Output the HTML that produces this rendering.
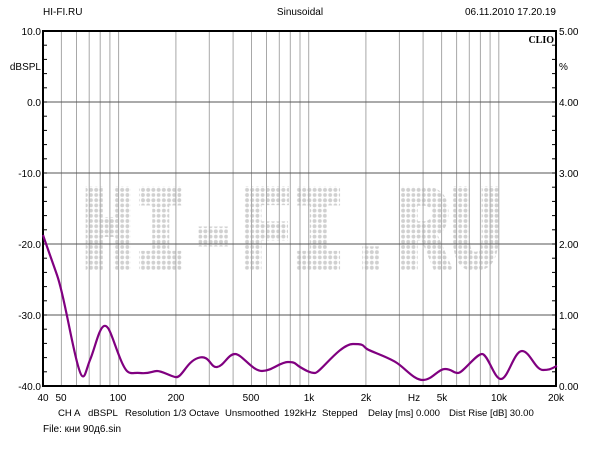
<!DOCTYPE html>
<html><head><meta charset="utf-8"><style>
body{margin:0;background:#fff;width:600px;height:450px;overflow:hidden}
svg{display:block;font-family:"Liberation Sans",Arial,sans-serif}
</style></head><body>
<svg width="600" height="450" viewBox="0 0 600 450">
<defs>
<pattern id="dots" width="5.2" height="5.2" patternUnits="userSpaceOnUse">
<circle cx="2.6" cy="2.6" r="1.9" fill="#d0d0d0"/></pattern>
</defs>
<rect width="600" height="450" fill="#fff"/>
<text x="82" y="267" font-family="Liberation Mono,monospace" font-weight="bold" font-size="118" fill="url(#dots)" stroke="url(#dots)" stroke-width="6" textLength="420" lengthAdjust="spacingAndGlyphs">HI-FI.RU</text>
<g id="grid" stroke="#a8a8a8" stroke-width="1"></g>
<g stroke="#555" stroke-width="1">
<line x1="43" y1="102" x2="556" y2="102"/><line x1="43" y1="173" x2="556" y2="173"/>
<line x1="43" y1="244" x2="556" y2="244"/><line x1="43" y1="315" x2="556" y2="315"/>
</g>
<g id="ticks" stroke="#000" stroke-width="1"></g>
<rect x="43" y="31" width="513" height="355" fill="none" stroke="#000" stroke-width="2"/>
<path d="M43,235 C46,244 50,255 57,275 S70,335 77,362 S85,372 90,360 S99,328 104,326 S112,338 120,358 S130,372 140,373 S152,371 157,371 S168,375 175,377 S186,362 198,358 S210,368 217,367 S228,354 235,354 S252,371 262,371 S280,362 288,362 S295,364 300,367 S310,373 315,373 S340,344 353,344 S362,346 367,349 S388,357 397,363 S414,380 423,380 S438,369 445,369 S453,373 458,373 S476,354 482,354 S494,379 501,379 S514,351 522,351 S535,370 543,370 S552,368 557,366" fill="none" stroke="#800080" stroke-width="2.2"/>
<g font-size="10" fill="#000">
<text x="43" y="15">HI-FI.RU</text>
<text x="300" y="15" text-anchor="middle">Sinusoidal</text>
<text x="556" y="15" text-anchor="end">06.11.2010 17.20.19</text>
<text x="554" y="43" text-anchor="end" font-family="Liberation Serif,serif" font-weight="bold" font-size="10">CLIO</text>
<g text-anchor="end">
<text x="41" y="35">10.0</text><text x="41" y="70">dBSPL</text><text x="41" y="106">0.0</text>
<text x="41" y="177">-10.0</text><text x="41" y="248">-20.0</text><text x="41" y="319">-30.0</text><text x="41" y="390">-40.0</text>
</g>
<g>
<text x="559" y="35">5.00</text><text x="559" y="70">%</text><text x="559" y="106">4.00</text>
<text x="559" y="177">3.00</text><text x="559" y="248">2.00</text><text x="559" y="319">1.00</text><text x="559" y="390">0.00</text>
</g>
<g text-anchor="middle">
<text x="43" y="401">40</text><text x="61" y="401">50</text><text x="118" y="401">100</text>
<text x="176" y="401">200</text><text x="251" y="401">500</text><text x="309" y="401">1k</text>
<text x="366" y="401">2k</text><text x="414" y="401">Hz</text><text x="442" y="401">5k</text>
<text x="499" y="401">10k</text><text x="556" y="401">20k</text>
</g>
<g font-size="9.6">
<text x="58" y="416">CH A</text><text x="88" y="416">dBSPL</text><text x="125" y="416">Resolution 1/3 Octave</text>
<text x="225" y="416">Unsmoothed</text><text x="284" y="416">192kHz</text><text x="322" y="416">Stepped</text>
<text x="368" y="416">Delay [ms] 0.000</text><text x="449" y="416">Dist Rise [dB] 30.00</text>
</g>
<text x="43" y="432">File: кни 90д6.sin</text>
</g>
<script>
var g=document.getElementById('grid'),t=document.getElementById('ticks'),ns='http://www.w3.org/2000/svg';
function X(f){return 43+513*Math.log(f/40)/Math.log(500);}
var fs=[50,60,70,80,90,100,200,300,400,500,600,700,800,900,1000,2000,3000,4000,5000,6000,7000,8000,9000,10000,20000];
fs.forEach(function(f){var l=document.createElementNS(ns,'line');var x=X(f).toFixed(1);
l.setAttribute('x1',x);l.setAttribute('x2',x);l.setAttribute('y1',31);l.setAttribute('y2',386);g.appendChild(l);});
for(var v=8;v>-40;v-=2){var y=31+(10-v)*7.1;
[[43,47],[552,556]].forEach(function(p){var l=document.createElementNS(ns,'line');l.setAttribute('x1',p[0]);l.setAttribute('x2',p[1]);l.setAttribute('y1',y);l.setAttribute('y2',y);t.appendChild(l);});}
</script>
</svg>
</body></html>
